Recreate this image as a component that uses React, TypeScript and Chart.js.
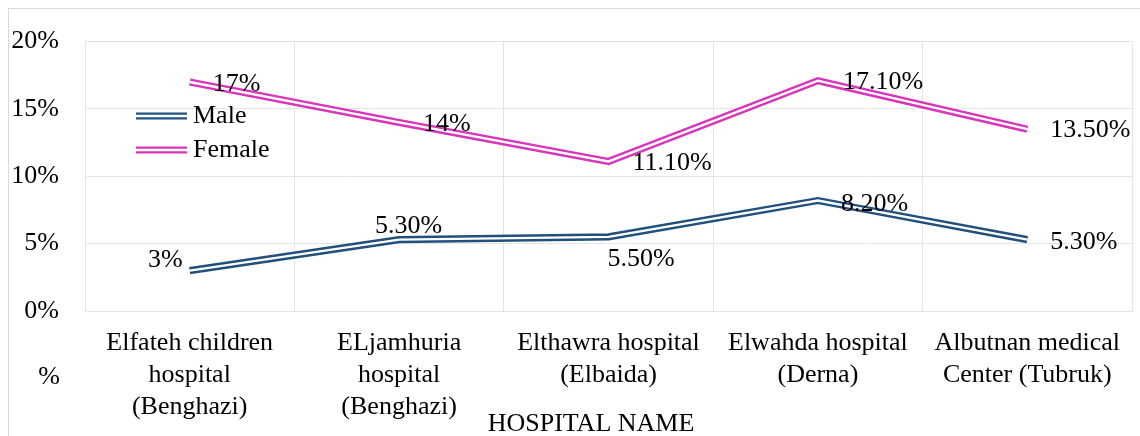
import React, { useEffect, useRef } from "react";
import { Chart, registerables } from "chart.js";

Chart.register(...registerables);

const categories: string[][] = [
  ["Elfateh children", "hospital", "(Benghazi)"],
  ["ELjamhuria", "hospital", "(Benghazi)"],
  ["Elthawra hospital", "(Elbaida)"],
  ["Elwahda hospital", "(Derna)"],
  ["Albutnan medical", "Center (Tubruk)"],
];
const maleValues = [3, 5.3, 5.5, 8.2, 5.3];
const femaleValues = [17, 14, 11.1, 17.1, 13.5];
const yTicks = [0, 5, 10, 15, 20];

const MALE_COLOR = "#21507D";
const FEMALE_COLOR = "#D835BA";
const FONT = "'Liberation Serif', 'Times New Roman', serif";
const FONT_SIZE = 26;
const GRID = "#e4e4e4";
const OUTER_W = 7.2;
const INNER_W = 2.4;

// label placement style per point: [align, dx, dy]
const maleLabelPlace: [CanvasTextAlign, number, number][] = [
  ["right", -7, -10],
  ["left", -24, -13],
  ["left", -1, 22],
  ["left", 23, 4],
  ["left", 23, 3],
];
const femaleLabelPlace: [CanvasTextAlign, number, number][] = [
  ["left", 23, 2],
  ["left", 24, 2],
  ["left", 24, 2],
  ["left", 25, 2],
  ["left", 23, 1],
];

const fmt = (v: number) => (Number.isInteger(v) ? `${v}%` : `${v.toFixed(2)}%`);

const overlayPlugin = {
  id: "overlay",
  beforeDraw(chart: any) {
    const ctx = chart.ctx;
    ctx.save();
    ctx.strokeStyle = "#d9d9d9";
    ctx.lineWidth = 1;
    ctx.beginPath();
    ctx.moveTo(8.5, chart.height);
    ctx.lineTo(8.5, 8.5);
    ctx.lineTo(chart.width, 8.5);
    ctx.stroke();
    ctx.restore();
  },
  afterDraw(chart: any) {
    const ctx = chart.ctx;
    ctx.save();
    ctx.font = `${FONT_SIZE}px ${FONT}`;
    ctx.fillStyle = "#000";
    ctx.textBaseline = "middle";
    // data labels
    const drawLabels = (dsIndex: number, values: number[], place: [CanvasTextAlign, number, number][]) => {
      const meta = chart.getDatasetMeta(dsIndex);
      meta.data.forEach((pt: any, i: number) => {
        const [align, dx, dy] = place[i];
        ctx.textAlign = align;
        ctx.fillText(fmt(values[i]), pt.x + dx, pt.y + dy);
      });
    };
    drawLabels(2, maleValues, maleLabelPlace);
    drawLabels(3, femaleValues, femaleLabelPlace);

    // legend
    const drawDouble = (x1: number, x2: number, y: number, color: string) => {
      ctx.lineCap = "butt";
      ctx.strokeStyle = color;
      ctx.lineWidth = OUTER_W;
      ctx.beginPath();
      ctx.moveTo(x1, y);
      ctx.lineTo(x2, y);
      ctx.stroke();
      ctx.strokeStyle = "#fff";
      ctx.lineWidth = INNER_W;
      ctx.beginPath();
      ctx.moveTo(x1, y);
      ctx.lineTo(x2, y);
      ctx.stroke();
    };
    drawDouble(136, 187, 116, MALE_COLOR);
    drawDouble(136, 187, 150, FEMALE_COLOR);
    ctx.fillStyle = "#000";
    ctx.textAlign = "left";
    ctx.fillText("Male", 193, 116);
    ctx.fillText("Female", 193, 150);

    // axis titles
    ctx.textAlign = "center";
    ctx.fillText("%", 49, 377);
    ctx.fillText("HOSPITAL NAME", 591, 424);
    ctx.restore();
  },
};

export default function App() {
  const ref = useRef<HTMLCanvasElement>(null);
  useEffect(() => {
    if (!ref.current) return;
    const chart = new Chart(ref.current, {
      type: "line",
      data: {
        labels: categories as any,
        datasets: [
          {
            label: "Male inner",
            data: maleValues,
            borderColor: "#fff",
            borderWidth: INNER_W,
            pointRadius: 0,
            order: 0,
          },
          {
            label: "Female inner",
            data: femaleValues,
            borderColor: "#fff",
            borderWidth: INNER_W,
            pointRadius: 0,
            order: 0,
          },
          {
            label: "Male",
            data: maleValues,
            borderColor: MALE_COLOR,
            borderWidth: OUTER_W,
            pointRadius: 0,
            order: 1,
          },
          {
            label: "Female",
            data: femaleValues,
            borderColor: FEMALE_COLOR,
            borderWidth: OUTER_W,
            pointRadius: 0,
            order: 1,
          },
        ],
      },
      options: {
        responsive: false,
        animation: false,
        layout: { padding: { left: 0, right: 8, top: 39, bottom: 0 } },
        plugins: {
          legend: { display: false },
          tooltip: { enabled: false },
        },
        elements: { line: { tension: 0, borderJoinStyle: "miter" } },
        scales: {
          x: {
            offset: true,
            grid: { offset: true, color: GRID, drawTicks: false },
            border: { color: GRID },
            ticks: {
              color: "#000",
              padding: 16,
              maxRotation: 0,
              autoSkip: false,
              font: { family: FONT, size: FONT_SIZE, lineHeight: 1.23 },
            },
            afterFit: (s: any) => {
              s.height = 125;
            },
          },
          y: {
            min: 0,
            max: 20,
            grid: { color: GRID, drawTicks: false },
            border: { color: GRID },
            afterBuildTicks: (s: any) => {
              s.ticks = yTicks.map((v) => ({ value: v }));
            },
            ticks: {
              color: "#000",
              padding: 26,
              callback: (v: any) => `${v}%`,
              font: { family: FONT, size: FONT_SIZE },
            },
            afterFit: (s: any) => {
              s.width = 85;
            },
          },
        },
      },
      plugins: [overlayPlugin],
    });
    return () => chart.destroy();
  }, []);
  return (
    <div style={{ position: "fixed", left: 0, top: 0, width: 1140, height: 436, background: "#fff" }}>
      <canvas ref={ref} width={1140} height={436} style={{ display: "block" }} />
    </div>
  );
}
